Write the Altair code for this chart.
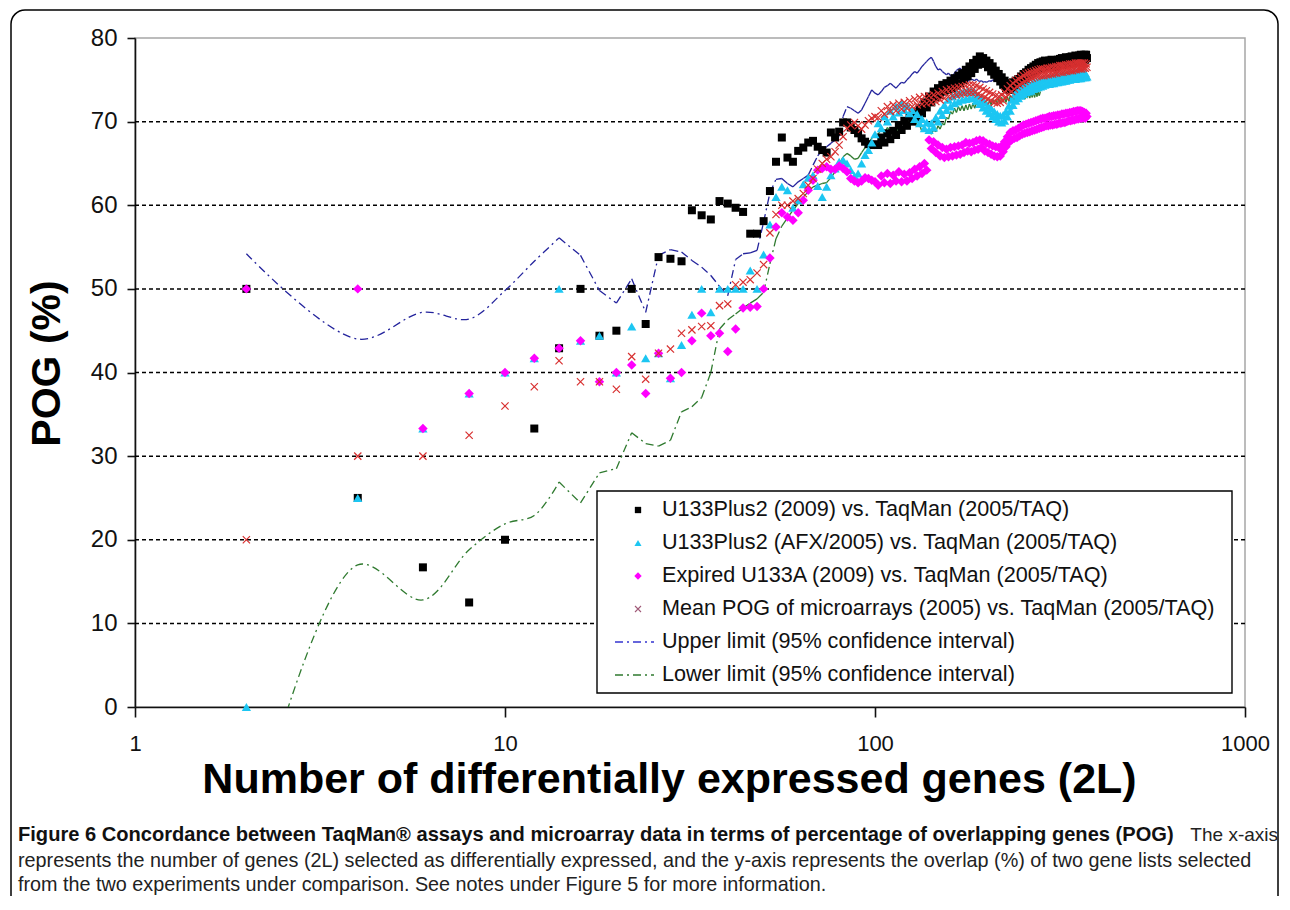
import altair as alt
import pandas as pd

# ---------------- data ----------------
X_2L = list(range(2, 376, 2))  # number of differentially expressed genes (2L)

U133PLUS2_2009 = [
    50, 25, 16.7, 12.5, 20, 33.3, 42.9, 50, 44.4, 45,
    50, 45.8, 53.8, 53.6, 53.3, 59.4, 58.8, 58.3, 60.5, 60.2,
    59.7, 59.2, 56.6, 56.6, 58.1, 61.7, 65.2, 68.1, 65.7, 65.2,
    66.5, 66.9, 67.5, 67.7, 67.0, 66.6, 66.3, 68.7, 68.1, 68.8,
    69.9, 69.9, 69.3, 69.0, 68.6, 68.0, 67.6, 67.3, 67.2, 67.3,
    67.2, 68.1, 67.5, 68.6, 67.9, 68.9, 68.4, 69.6, 69.0, 70.1,
    69.5, 70.6, 70.0, 71.1, 70.4, 71.6, 71.0, 72.3, 71.7, 73.0,
    72.3, 73.6, 72.9, 74.0, 73.2, 74.4, 73.6, 74.6, 73.8, 74.9,
    74.0, 75.2, 74.3, 75.5, 74.6, 75.8, 75.0, 76.2, 75.4, 76.6,
    75.8, 77.0, 76.3, 77.4, 76.8, 77.8, 77.1, 77.6, 76.9, 77.3,
    76.5, 77.0, 76.0, 76.6, 75.6, 76.1, 75.2, 75.7, 74.8, 75.3,
    74.4, 74.9, 74.0, 74.6, 73.8, 74.5, 73.9, 74.7, 74.1, 74.9,
    74.3, 75.1, 74.6, 75.4, 74.8, 75.7, 75.1, 75.9, 75.4, 76.2,
    75.6, 76.4, 75.8, 76.6, 76.0, 76.8, 76.2, 77.0, 76.3, 77.1,
    76.4, 77.2, 76.5, 77.3, 76.6, 77.2, 76.5, 77.3, 76.7, 77.4,
    76.6, 77.3, 76.5, 77.2, 76.6, 77.4, 76.8, 77.5, 76.9, 77.6,
    76.8, 77.5, 76.9, 77.7, 77.0, 77.6, 76.9, 77.7, 77.1, 77.8,
    77.0, 77.7, 77.1, 77.9, 77.2, 77.8, 77.1, 77.9, 77.3, 78.0,
    77.2, 77.9, 77.3, 78.0, 77.4, 78.0, 77.6,
]

U133PLUS2_AFX_2005 = [
    0, 25, 33.3, 37.5, 40, 41.7, 50, 43.8, 44.4, 40,
    45.5, 41.7, 42.3, 39.3, 43.3, 46.9, 50, 47.2, 50, 50,
    50, 50, 52.2, 50, 54.1, 57.7, 61.0, 62.2, 61.8, 59.7,
    60.6, 62.5, 63.3, 63.6, 62.3, 61.0, 62.2, 63.6, 64.4, 65.2,
    65.4, 65.0, 64.2, 63.5, 63.8, 65.0, 66.0, 66.6, 67.5, 68.5,
    69.8, 69.2, 70.6, 70.0, 71.3, 70.6, 71.8, 71.1, 72.2, 71.4,
    71.9, 71.0, 71.4, 70.3, 70.9, 69.8, 70.3, 69.2, 69.9, 69.0,
    69.8, 69.3, 70.5, 70.0, 71.3, 70.8, 72.0, 71.4, 72.6, 71.8,
    73.0, 72.2, 73.3, 72.4, 73.5, 72.6, 73.6, 72.7, 73.7, 72.8,
    73.7, 72.8, 73.5, 72.5, 73.1, 72.1, 72.7, 71.7, 72.3, 71.3,
    71.9, 71.0, 71.6, 70.6, 71.2, 70.3, 70.9, 70.0, 70.7, 69.9,
    70.8, 70.1, 71.2, 70.6, 71.9, 71.3, 72.6, 72.0, 73.2, 72.5,
    73.5, 72.8, 73.8, 73.1, 74.0, 73.3, 74.2, 73.5, 74.3, 73.6,
    74.4, 73.7, 74.6, 73.9, 74.7, 74.0, 74.8, 74.1, 74.9, 74.2,
    75.0, 74.3, 75.1, 74.4, 75.1, 74.5, 75.2, 74.5, 75.3, 74.6,
    75.3, 74.6, 75.4, 74.7, 75.4, 74.7, 75.5, 74.8, 75.5, 74.8,
    75.6, 74.9, 75.6, 74.9, 75.7, 75.0, 75.7, 75.0, 75.8, 75.1,
    75.8, 75.1, 75.8, 75.1, 75.9, 75.2, 75.9, 75.2, 75.9, 75.2,
    75.9, 75.3, 75.9, 75.3, 75.8, 75.3, 75.4,
]

EXPIRED_U133A_2009 = [
    50, 50, 33.3, 37.5, 40, 41.7, 42.9, 43.8, 38.9, 40,
    40.9, 37.5, 42.3, 39.3, 40, 43.8, 47.1, 44.4, 44.7, 42.5,
    45.2, 47.7, 47.8, 47.9, 50.0, 53.7, 57.4, 59.1, 58.6, 58.2,
    59.1, 60.6, 61.8, 63.0, 64.2, 64.4, 64.6, 64.3, 64.3, 64.7,
    64.4, 64.0, 63.2, 62.9, 62.7, 62.9, 63.3, 63.2, 63.0, 62.8,
    62.4, 63.5, 62.7, 63.8, 62.6, 63.6, 62.9, 64.0, 62.8, 63.7,
    62.9, 63.9, 63.2, 64.3, 63.5, 64.6, 63.8, 65.0, 64.2, 67.8,
    66.8, 67.6, 66.3, 67.2, 65.9, 66.9, 65.7, 66.7, 65.8, 66.9,
    65.9, 67.0, 66.0, 67.1, 66.1, 67.2, 66.3, 67.5, 66.5, 67.4,
    66.4, 67.5, 66.6, 67.7, 66.7, 67.8, 66.9, 67.7, 66.5, 67.4,
    66.3, 67.3, 66.1, 67.1, 65.9, 67.0, 65.8, 66.9, 65.9, 67.1,
    66.4, 67.6, 67.0, 68.2, 67.5, 68.7, 67.8, 68.9, 68.0, 69.0,
    68.1, 69.2, 68.3, 69.4, 68.5, 69.6, 68.6, 69.7, 68.7, 69.8,
    68.8, 69.9, 68.9, 70.0, 69.0, 70.1, 69.1, 70.2, 69.2, 70.3,
    69.3, 70.4, 69.4, 70.4, 69.5, 70.5, 69.5, 70.6, 69.6, 70.6,
    69.6, 70.7, 69.7, 70.7, 69.7, 70.8, 69.8, 70.8, 69.8, 70.9,
    69.9, 70.9, 69.9, 71.0, 70.0, 71.0, 70.1, 71.1, 70.1, 71.1,
    70.2, 71.2, 70.2, 71.2, 70.3, 71.3, 70.3, 71.3, 70.4, 71.3,
    70.4, 71.2, 70.5, 71.1, 70.4, 71.0, 70.6,
]

MEAN_POG_2005 = [
    20, 30, 30, 32.5, 36, 38.3, 41.4, 38.9, 38.9, 38,
    41.9, 39.2, 42.3, 42.8, 44.7, 45.1, 45.5, 45.6, 48.0, 48.2,
    50.5, 50.8, 51.1, 51.9, 52.9, 56.7, 58.9, 60.0, 60.0, 60.5,
    60.8, 61.4, 62.4, 63.2, 64.3, 65.0, 65.5, 65.8, 66.4, 67.2,
    68.2, 69.2, 69.6, 69.9, 69.5, 69.1, 69.6, 70.1, 70.4, 70.6,
    70.5, 71.3, 70.9, 71.8, 71.2, 72.0, 71.3, 72.2, 71.5, 72.3,
    71.6, 72.5, 71.8, 72.7, 72.0, 72.9, 72.1, 73.0, 72.2, 73.1,
    72.3, 73.2, 72.4, 73.4, 72.6, 73.6, 72.8, 73.8, 73.0, 73.9,
    73.1, 74.0, 73.2, 74.1, 73.3, 74.2, 73.4, 74.3, 73.5, 74.4,
    73.5, 74.4, 73.5, 74.3, 73.3, 74.1, 73.1, 73.9, 72.9, 73.7,
    72.7, 73.5, 72.5, 73.3, 72.3, 73.1, 72.2, 73.0, 72.3, 73.2,
    72.5, 73.5, 72.9, 73.9, 73.3, 74.3, 73.6, 74.6, 73.9, 74.9,
    74.2, 75.1, 74.4, 75.3, 74.6, 75.5, 74.8, 75.7, 75.0, 75.8,
    75.1, 75.9, 75.2, 76.0, 75.3, 76.1, 75.4, 76.2, 75.5, 76.3,
    75.5, 76.3, 75.5, 76.3, 75.6, 76.4, 75.6, 76.4, 75.7, 76.5,
    75.7, 76.5, 75.8, 76.6, 75.8, 76.6, 75.9, 76.7, 75.9, 76.7,
    75.9, 76.7, 76.0, 76.8, 76.0, 76.8, 76.1, 76.9, 76.1, 76.9,
    76.1, 76.9, 76.2, 77.0, 76.2, 77.0, 76.3, 77.0, 76.3, 77.0,
    76.3, 77.0, 76.4, 77.0, 76.4, 76.9, 76.5,
]

# 95% confidence interval limits (same 2L grid, visible part only)
UPPER_LIMIT = [
    54.2, 44.0, 47.2, 46.4, 49.8, 53.3, 56.1, 54.0, 49.8, 48.3,
    51.2, 47.2, 54.0, 54.7, 54.4, 53.4, 52.6, 51.6, 50.3, 49.2,
    53.5, 54.2, 54.3, 54.6, 58.0, 61.5, 63.1, 63.2, 62.6, 62.2,
    62.8, 63.2, 63.6, 64.8, 65.9, 66.6, 67.0, 67.4, 67.8, 68.3,
    70.6, 71.8, 71.6, 71.3, 71.0, 71.4, 72.2, 73.0, 73.8, 73.4,
    73.2, 73.6, 74.1, 74.3, 74.6, 74.3, 74.0, 74.4, 74.7, 74.6,
    75.0, 75.3, 75.7, 76.0, 75.8, 76.2, 76.6, 76.9, 77.2, 77.5,
    77.7, 77.2, 76.6, 76.2, 76.3, 76.0, 75.8, 75.6, 75.8, 75.5,
    75.4, 75.8, 76.1, 76.3, 76.4, 76.0, 75.3, 74.6, 74.8, 75.0,
    75.1, 75.0, 74.9, 75.1, 74.9, 74.8, 74.9, 74.7, 74.8, 74.7,
    74.8, 74.9, 74.8, 75.0, 74.9, 75.0, 75.0, 74.9,
]

LOWER_LIMIT = [
    -17, 17.0, 12.8, 18.8, 21.9, 22.9, 26.9, 24.4, 28.0, 28.5,
    32.8, 31.5, 31.2, 31.9, 35.3, 35.9, 37.0, 40.0, 45.2, 46.3,
    47.0, 47.7, 48.3, 48.8, 49.6, 53.0, 56.0, 57.5, 58.5, 59.4,
    60.2, 61.0, 61.6, 62.2, 62.4, 62.6, 62.7, 63.3, 64.0, 64.9,
    65.8, 66.2, 65.9, 65.5, 65.6, 66.3, 66.9, 67.5, 68.0, 68.4,
    68.5, 69.1, 68.6, 69.3, 68.8, 69.2, 68.7, 69.4, 68.8, 69.4,
    69.3, 70.2, 69.8, 70.4, 69.5, 69.6, 68.8, 69.3, 68.7, 69.1,
    68.5, 69.0, 68.8, 69.5, 69.1, 69.8, 69.6, 70.5, 70.3, 71.2,
    70.9, 71.6, 71.1, 71.8, 71.3, 71.9, 71.3, 72.0, 71.4, 72.1,
    71.5, 72.2, 71.6, 72.3, 71.7, 72.4, 71.8, 72.5, 71.9, 72.4,
    71.9, 72.6, 72.0, 72.7, 72.1, 72.6, 72.1, 72.8, 72.2, 72.9,
    72.3, 72.9, 72.3, 73.0, 72.4, 73.1, 72.5, 73.1, 72.5, 73.2,
    72.6, 73.2, 72.6, 73.3, 72.7, 73.3, 72.7, 73.4, 72.8, 73.4,
    72.8, 73.5, 72.9, 73.5, 72.9, 73.6, 73.0, 73.6, 73.1, 73.6,
]

Y_TICKS = [0, 10, 20, 30, 40, 50, 60, 70, 80]
GRID_VALUES = [10, 20, 30, 40, 50, 60, 70]
X_TICKS = [1, 10, 100, 1000]

LEGEND_LABELS = [
    "U133Plus2 (2009) vs. TaqMan (2005/TAQ)",
    "U133Plus2 (AFX/2005) vs. TaqMan (2005/TAQ)",
    "Expired U133A (2009) vs. TaqMan (2005/TAQ)",
    "Mean POG of microarrays (2005) vs. TaqMan (2005/TAQ)",
    "Upper limit (95% confidence interval)",
    "Lower limit (95% confidence interval)",
]

X_TITLE = "Number of differentially expressed genes (2L)"
Y_TITLE = "POG (%)"
CAPTION_BOLD = ("Figure 6 Concordance between TaqMan\u00ae assays and microarray data in terms "
                "of percentage of overlapping genes (POG)")
CAPTION_TAIL = "The x-axis"
CAPTION_LINE2 = ("represents the number of genes (2L) selected as differentially expressed, and the "
                 "y-axis represents the overlap (%) of two gene lists selected")
CAPTION_LINE3 = "from the two experiments under comparison. See notes under Figure 5 for more information."

# ---------------- styling / layout ----------------
FONT = "Liberation Sans"
CAP_FONT = "Liberation Sans"
W, H = 1110, 669
PAD = {"left": 127, "top": 30, "right": 35, "bottom": 189}

C_BLACK = "#000000"
C_CYAN = "#1CC6F2"
C_MAGENTA = "#FF00FF"
C_MEAN = "#D83030"
C_UPPER = "#23239C"
C_LOWER = "#2F7A2F"
DASHDOT = [8, 4, 2, 4]
X_SHAPE = "M-1,-1L1,1M-1,1L1,-1"

xscale = alt.Scale(type="log", domain=[1, 1000], nice=False)
yscale = alt.Scale(domain=[0, 80], nice=False)

xaxis = alt.Axis(
    values=X_TICKS, format="d", title=X_TITLE, grid=False,
    domainColor="#111111", domainWidth=1.6, tickColor="#111111", tickWidth=1.6, tickSize=10,
    labelFont=FONT, labelFontSize=22, labelColor="#111111", labelPadding=16,
    labelFlush=False, labelOverlap=False,
    titleFont=FONT, titleFontSize=43, titleFontWeight="bold", titleColor="#000000",
    titleX=534, titleY=85, titleAlign="center", titleBaseline="alphabetic",
)
yaxis = alt.Axis(
    values=Y_TICKS, title=Y_TITLE, grid=False,
    domainColor="#111111", domainWidth=1.6, tickColor="#111111", tickWidth=1.6, tickSize=8,
    labelFont=FONT, labelFontSize=24, labelColor="#111111", labelPadding=10,
    titleFont=FONT, titleFontSize=41, titleFontWeight="bold", titleColor="#000000",
    titleX=-88, titleY=325, titleAngle=-90, titleAlign="center", titleBaseline="middle",
)


def X(field):
    return alt.X(field, type="quantitative", scale=xscale, axis=xaxis)


def Y(field):
    return alt.Y(field, type="quantitative", scale=yscale, axis=yaxis)


def series_df(values):
    return pd.DataFrame({"x": X_2L[:len(values)], "y": values})


def segments_df(values, start):
    xs = X_2L[:len(values)]
    df = pd.DataFrame({"x": xs[:-1], "x2": xs[1:], "y": values[:-1], "y2": values[1:]})
    return df[df["x"] >= start]


def smooth_df(values, stop):
    df = series_df(values)
    return df[df["x"] <= stop]


# grid lines
grid = alt.Chart(pd.DataFrame({"g": GRID_VALUES})).mark_rule(
    color="black", strokeDash=[4, 3], strokeWidth=1.5
).encode(y=Y("g"))


def limit_layers(values, color, split):
    smooth = alt.Chart(smooth_df(values, split)).mark_line(
        interpolate="catmull-rom", color=color, strokeWidth=1.3, strokeDash=DASHDOT, clip=True
    ).encode(x=X("x"), y=Y("y"))
    segs = alt.Chart(segments_df(values, split)).mark_rule(
        color=color, strokeWidth=1.3, strokeDash=DASHDOT, clip=True
    ).encode(x=X("x"), x2="x2", y=Y("y"), y2="y2")
    return [smooth, segs]


upper_layers = limit_layers(UPPER_LIMIT, C_UPPER, 14)
lower_layers = limit_layers(LOWER_LIMIT, C_LOWER, 14)

pts_black = alt.Chart(series_df(U133PLUS2_2009)).mark_point(
    shape="square", filled=True, size=64, color=C_BLACK, opacity=1
).encode(x=X("x"), y=Y("y"))
pts_cyan = alt.Chart(series_df(U133PLUS2_AFX_2005)).mark_point(
    shape="triangle-up", filled=True, size=85, color=C_CYAN, opacity=1
).encode(x=X("x"), y=Y("y"))
pts_magenta = alt.Chart(series_df(EXPIRED_U133A_2009)).mark_point(
    shape="diamond", filled=True, size=90, color=C_MAGENTA, opacity=1
).encode(x=X("x"), y=Y("y"))
pts_mean = alt.Chart(series_df(MEAN_POG_2005)).mark_point(
    shape=X_SHAPE, filled=False, size=52, strokeWidth=1.2, color=C_MEAN, opacity=1
).encode(x=X("x"), y=Y("y"))

# ---------------- legend (drawn by hand inside the plot) ----------------
LEG_X0, LEG_X1, LEG_Y0, LEG_Y1 = 462, 1097, 453, 655
ROW0, ROW_STEP = 472, 33
SYM_X, TXT_X, LINE_X0, LINE_X1 = 503, 527, 480, 519

legend_df = pd.DataFrame({
    "label": LEGEND_LABELS,
    "ly": [ROW0 + ROW_STEP * i for i in range(len(LEGEND_LABELS))],
})
one = pd.DataFrame({"k": [0]})

leg_box = alt.Chart(one).mark_rect(fill="white", stroke="black", strokeWidth=1.4).encode(
    x=alt.value(LEG_X0), x2=alt.value(LEG_X1), y=alt.value(LEG_Y0), y2=alt.value(LEG_Y1)
)
leg_text = alt.Chart(legend_df).mark_text(
    align="left", baseline="middle", font=FONT, fontSize=21.6, color="#111111"
).encode(x=alt.value(TXT_X), y=alt.Y("ly:Q", scale=None, axis=None), text="label:N")


def leg_symbol(i, **mark):
    return alt.Chart(legend_df.iloc[[i]]).mark_point(opacity=1, **mark).encode(
        x=alt.value(SYM_X), y=alt.Y("ly:Q", scale=None, axis=None)
    )


def leg_line(i, color):
    return alt.Chart(legend_df.iloc[[i]]).mark_rule(
        color=color, strokeWidth=1.6, strokeDash=[8, 4, 2, 4]
    ).encode(x=alt.value(LINE_X0), x2=alt.value(LINE_X1), y=alt.Y("ly:Q", scale=None, axis=None))


leg_syms = [
    leg_symbol(0, shape="square", filled=True, size=40, color=C_BLACK),
    leg_symbol(1, shape="triangle-up", filled=True, size=50, color=C_CYAN),
    leg_symbol(2, shape="diamond", filled=True, size=55, color=C_MAGENTA),
    leg_symbol(3, shape=X_SHAPE, filled=False, size=36, strokeWidth=1.1, color="#A05A78"),
    leg_line(4, "#3535D0"),
    leg_line(5, C_LOWER),
]

# ---------------- figure frame & caption ----------------
frame = alt.Chart(one).mark_rect(
    fill=None, stroke="black", strokeWidth=1.5, cornerRadius=14
).encode(x=alt.value(-124), x2=alt.value(1143), y=alt.value(-28), y2=alt.value(880))


def text_layer(s, x, y, **kw):
    return alt.Chart(pd.DataFrame({"t": [s]})).mark_text(**kw).encode(
        x=alt.value(x), y=alt.value(y), text="t:N"
    )


cap1 = text_layer(CAPTION_BOLD, -117, 803, align="left", baseline="alphabetic",
                  font=CAP_FONT, fontSize=20.1, fontWeight="bold", color="#111111")
cap1b = text_layer(CAPTION_TAIL, 1143, 803, align="right", baseline="alphabetic",
                   font=CAP_FONT, fontSize=19.0, color="#222222")
cap2 = text_layer(CAPTION_LINE2, -117, 829, align="left", baseline="alphabetic",
                  font=CAP_FONT, fontSize=19.8, color="#222222")
cap3 = text_layer(CAPTION_LINE3, -117, 853, align="left", baseline="alphabetic",
                  font=CAP_FONT, fontSize=19.8, color="#222222")

chart = alt.layer(
    grid,
    *upper_layers, *lower_layers,
    pts_black, pts_cyan, pts_magenta, pts_mean,
    leg_box, leg_text, *leg_syms,
    frame, cap1, cap1b, cap2, cap3,
).properties(
    width=W, height=H, padding=PAD,
    autosize=alt.AutoSizeParams(type="none"),
    background="white",
).configure_view(stroke="#A6A6A6", strokeWidth=1.5)

chart.save("out.html", embed_options={"renderer": "svg", "actions": False})
